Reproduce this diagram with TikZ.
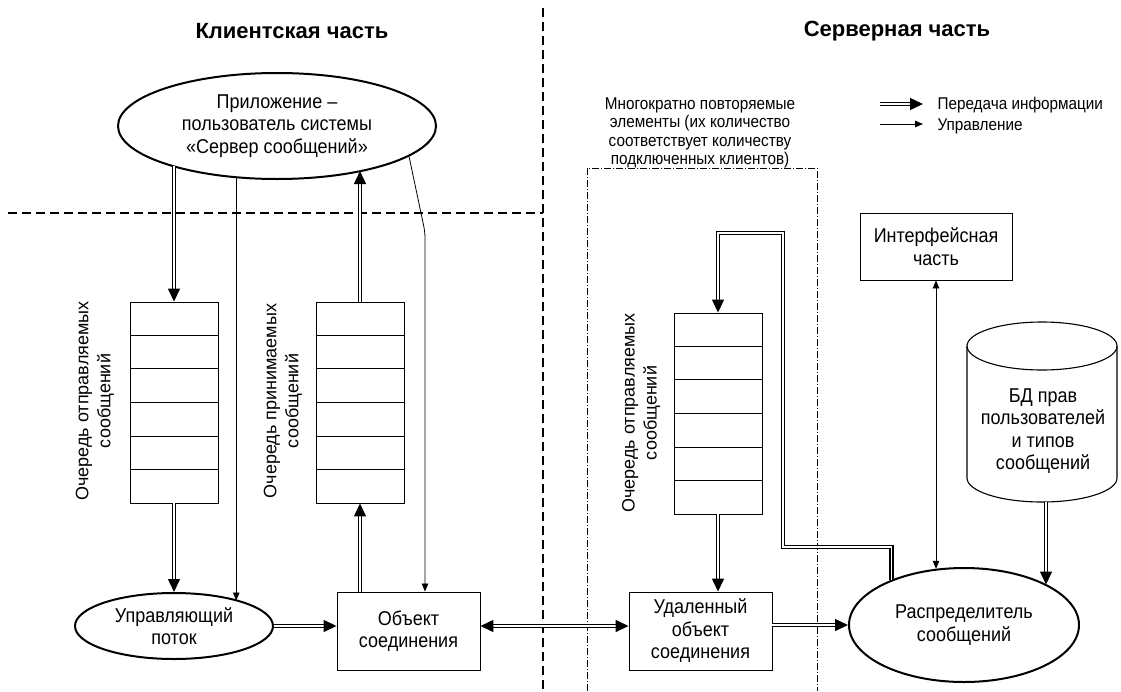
\documentclass[tikz,border=0pt]{standalone}
\usepackage{fontspec}
\setmainfont{Liberation Sans}
\newfontfamily\narrowfont[FakeStretch=0.9]{Liberation Sans}
\usetikzlibrary{shapes.geometric,arrows.meta,calc}
\begin{document}
\begin{tikzpicture}[x=1pt,y=1pt,
 lab/.style={font=\narrowfont\fontsize{20}{22.5}\selectfont, align=center},
 box/.style={draw, line width=0.9pt, inner sep=0pt, lab},
 ell/.style={draw, ellipse, line width=2pt, inner sep=0pt, lab},
 queue/.style={draw, line width=0.9pt, minimum width=88pt, minimum height=201pt, inner sep=0pt},
 qlab/.style={rotate=90, font=\fontsize{18}{22}\selectfont, align=center},
 info/.style={double, double distance=1.6pt, line width=1.4pt, >={Triangle[length=13pt,width=12pt]}, ->},
 infoboth/.style={info, <->},
 ctrl/.style={line width=0.8pt, >={Triangle[length=8pt,width=6.5pt]}, ->},
 ctrlboth/.style={ctrl, <->},
 sepline/.style={line width=1.3pt, dash pattern=on 9pt off 5pt},
 grpline/.style={line width=0.7pt, dash pattern=on 7pt off 2pt on 1pt off 2pt},
 title/.style={font=\fontsize{22}{26}\selectfont\bfseries},
 small/.style={font=\narrowfont\fontsize{17}{18.5}\selectfont, align=center}
]
\useasboundingbox (0,0) rectangle (1121,-691);

% titles
\node[title] (tcl) at (292,-31) {Клиентская часть};
\node[title] (tsv) at (897,-31) {Серверная часть};

% separators
\draw[sepline] (543,-8) -- (543,-691);
\draw[sepline] (8,-213) -- (543,-213);

% group frame
\draw[grpline] (587,-691) -- (587,-168) -- (817,-168) -- (817,-691);
\node[small] (grp) at (700,-133) {Многократно повторяемые\\элементы (их количество\\соответствует количеству\\подключенных клиентов)};

% legend
\node[small, anchor=west] (lg1) at (934,-105) {Передача информации};
\node[small, anchor=west] (lg2) at (934,-126) {Управление};
\coordinate (la1) at (880,-104);
\coordinate (la1e) at (923,-104);
\coordinate (la2) at (880,-124);
\coordinate (la2e) at (923,-124);
\draw[info] (la1) -- (la1e);
\draw[ctrl] (la2) -- (la2e);

% client nodes
\node[ell, minimum width=318pt, minimum height=106pt] (app) at (277,-126) {Приложение –\\пользователь системы\\«Сервер сообщений»};
\node[queue] (q1) at (174,-402.5) {};
\node[queue] (q2) at (360,-402.5) {};
\node[qlab] (q1lab) at (95,-401) {Очередь отправляемых\\сообщений};
\node[qlab] (q2lab) at (283,-401) {Очередь принимаемых\\сообщений};
\node[ell, minimum width=198pt, minimum height=66pt] (upr) at (174,-626) {Управляющий\\поток};
\node[box, minimum width=143pt, minimum height=78pt] (obj) at (408.5,-631) {Объект\\соединения};

% server nodes
\node[queue] (q3) at (718,-413.5) {};
\node[qlab] (q3lab) at (641,-413) {Очередь отправляемых\\сообщений};
\node[box, minimum width=143pt, minimum height=78pt] (udal) at (700.5,-631) {Удаленный\\объект\\соединения};
\node[ell, minimum width=230pt, minimum height=114pt] (raspr) at (964,-625) {Распределитель\\сообщений};
\node[box, minimum width=152pt, minimum height=67pt] (iface) at (936,-246.5) {Интерфейсная\\часть};

% database cylinder
\draw[line width=1.1pt] (967,-346) -- (967,-478) arc[start angle=180, end angle=360, x radius=75pt, y radius=24pt] -- (1117,-346);
\draw[line width=1.1pt] (1042,-346) ellipse [x radius=75pt, y radius=24pt];
\node[lab] (db) at (1043,-431) {БД прав\\пользователей\\и типов\\сообщений};
\coordinate (dbout) at (1046,-502);

% queue rows
\foreach \q in {q1,q2,q3}{
  \foreach \i in {1,...,5}{
    \draw[line width=0.9pt] ($(\q.north west)!\i/6!(\q.south west)$) -- ($(\q.north east)!\i/6!(\q.south east)$);
  }
}

% connectors client
\draw[info] (app.200 -| q1.north) -- (q1.north);
\draw[info] (q1.south) -- (upr.north);
\draw[ctrl] (app.232) -- (app.232 |- upr.21);
\draw[info] (q2.north) -- (q2.north |- app.333);
\draw[info] (obj.north -| q2.south) -- (q2.south);
\coordinate (bend1) at (425,-232);
\draw[ctrl, rounded corners=6pt] (app.347) -- (bend1) -- (bend1 |- obj.north);
\draw[info] (upr.east) -- (upr.east -| obj.west);
\draw[infoboth] (obj.east |- upr.east) -- (udal.west |- upr.east);

% connectors server
\draw[info] (q3.south) -- (q3.south |- udal.north);
\draw[info] (udal.east |- raspr.west) -- (raspr.west);
\coordinate (l1) at (783,-547);
\coordinate (l2) at (718,-233);
\draw[info] (raspr.148) |- (l1) |- (l2) -- (q3.north);
\draw[ctrlboth] (iface.south) -- (iface.south |- raspr.117);
\draw[info] (dbout) -- (dbout |- raspr.26);
\end{tikzpicture}
\end{document}
